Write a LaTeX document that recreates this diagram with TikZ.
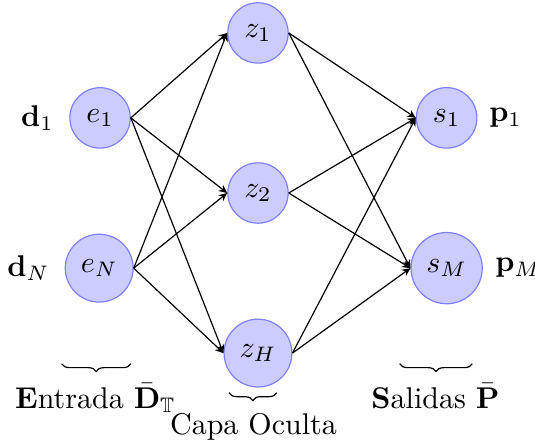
\documentclass[tikz,border=0pt]{standalone}
\usepackage{amsmath,amssymb}
\usepackage{xcolor}
\usepackage{tikz}
\usetikzlibrary{positioning,arrows.meta,decorations.pathreplacing}
\definecolor{neuronfill}{RGB}{204,204,255}
\definecolor{neurondraw}{RGB}{128,128,255}
\tikzset{
  neuron-node/.style={circle, draw=neurondraw, fill=neuronfill, inner sep=3.33pt},
  flow-arrow/.style={-{Stealth[length=2.8pt,width=2.6pt]}, draw=black},
  layer-brace/.style={decorate, decoration={brace, mirror, amplitude=2.6pt}},
  layer-label/.style={anchor=base, inner sep=0pt}
}
\begin{document}
\begin{tikzpicture}
\useasboundingbox (-3.022,-2.940) rectangle (3.245,2.261);
% capa de entrada
\node[neuron-node] (e1) at (-1.85, 0.88) {$e_1$};
\node[neuron-node] (eN) at (-1.86, -0.88) {$e_N$};
\node[left=1.6pt of e1] (d1) {$\mathbf{d}_1$};
\node[left=1.6pt of eN] (dN) {$\mathbf{d}_N$};
% capa oculta
\node[neuron-node] (z1) at (0, 1.875) {$z_1$};
\node[neuron-node] (z2) at (0, 0) {$z_2$};
\node[neuron-node] (zH) at (0, -1.875) {$z_H$};
% capa de salida
\node[neuron-node] (s1) at (2.21, 0.88) {$s_1$};
\node[neuron-node] (sM) at (2.21, -0.88) {$s_M$};
\node[right=0.4pt of s1] (p1) {$\mathbf{p}_1$};
\node[right=0.6pt of sM] (pM) {$\mathbf{p}_M$};
% conexiones
\draw[flow-arrow] (e1.east) -- (z1.west);
\draw[flow-arrow] (e1.east) -- (z2.west);
\draw[flow-arrow] (e1.east) -- (zH.west);
\draw[flow-arrow] (eN.east) -- (z1.west);
\draw[flow-arrow] (eN.east) -- (z2.west);
\draw[flow-arrow] (eN.east) -- (zH.west);
\draw[flow-arrow] (z1.east) -- (s1.west);
\draw[flow-arrow] (z1.east) -- (sM.west);
\draw[flow-arrow] (z2.east) -- (s1.west);
\draw[flow-arrow] (z2.east) -- (sM.west);
\draw[flow-arrow] (zH.east) -- (s1.west);
\draw[flow-arrow] (zH.east) -- (sM.west);
% llaves y rotulos
\coordinate (be-a) at (-2.30, -2.0);
\coordinate (be-b) at (-1.49, -2.0);
\coordinate (bz-a) at (-0.34, -2.34);
\coordinate (bz-b) at (0.22, -2.34);
\coordinate (bs-a) at (1.66, -2.0);
\coordinate (bs-b) at (2.51, -2.0);
\draw[layer-brace] (be-a) -- (be-b);
\draw[layer-brace] (bz-a) -- (bz-b);
\draw[layer-brace] (bs-a) -- (bs-b);
\node[layer-label] (lentrada) at (-1.904, -2.519) {\textbf{E}ntrada $\bar{\mathbf{D}}_{\mathbb{T}}$};
\node[layer-label] (loculta) at (-0.053, -2.823) {Capa Oculta};
\node[layer-label] (lsalidas) at (2.079, -2.519) {\textbf{S}alidas $\bar{\mathbf{P}}$};
\end{tikzpicture}
\end{document}
